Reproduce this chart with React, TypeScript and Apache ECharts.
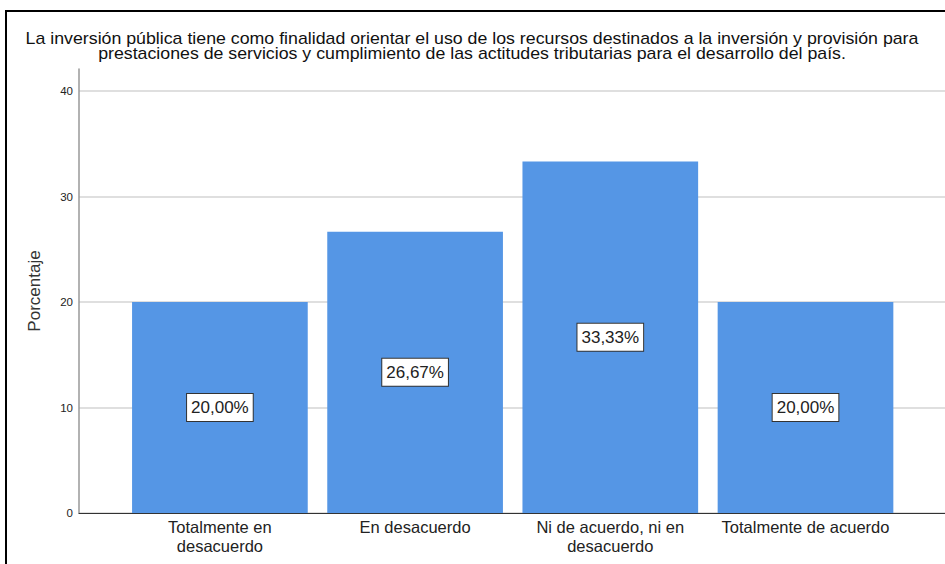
import React, { useEffect, useRef } from "react";
import * as echarts from "echarts";

const categories = [
  "Totalmente en\ndesacuerdo",
  "En desacuerdo",
  "Ni de acuerdo, ni en\ndesacuerdo",
  "Totalmente de acuerdo",
];
const percentages = [20.0, 26.67, 33.33, 20.0];
const yTicks = { min: 0, max: 42.1, interval: 10 };
const titleText =
  "La inversión pública tiene como finalidad orientar el uso de los recursos destinados a la inversión y provisión para\nprestaciones de servicios y cumplimiento de las actitudes tributarias para el desarrollo del país.";
const yName = "Porcentaje";

const FONT = "Liberation Sans, Arial, sans-serif";

export default function App() {
  const ref = useRef<HTMLDivElement>(null);
  useEffect(() => {
    if (!ref.current) return;
    const chart = echarts.init(ref.current, undefined, { renderer: "svg" });
    chart.setOption({
      animation: false,
      backgroundColor: "#ffffff",
      graphic: [
        {
          type: "rect",
          shape: { x: 6, y: 11, width: 1200, height: 1000 },
          style: { fill: "none", stroke: "#000", lineWidth: 2 },
          silent: true,
        },
        {
          type: "text",
          x: 472,
          y: 31,
          scaleX: 1.11,
          silent: true,
          style: {
            text: titleText,
            fontFamily: FONT,
            fontSize: 16,
            lineHeight: 15.5,
            fill: "#111",
            align: "center",
            verticalAlign: "top",
          },
        },
      ],
      grid: [
        { left: 79, right: 0, top: 69, bottom: 51 },
        { left: 122.3, right: 41.9, top: 69, bottom: 51 },
      ],
      xAxis: [
        {
          gridIndex: 0,
          type: "value",
          min: 0,
          max: 1,
          axisLine: { show: true, onZero: false, lineStyle: { color: "#333", width: 1 } },
          axisLabel: { show: false },
          axisTick: { show: false },
          splitLine: { show: false },
        },
        {
          gridIndex: 1,
          type: "category",
          data: categories,
          axisLine: { show: false },
          axisTick: { show: false },
          axisLabel: {
            fontFamily: FONT,
            fontSize: 16.5,
            color: "#222",
            lineHeight: 18.5,
            margin: 5,
            interval: 0,
          },
        },
      ],
      yAxis: [
        {
          gridIndex: 0,
          type: "value",
          min: yTicks.min,
          max: yTicks.max,
          interval: yTicks.interval,
          name: yName,
          nameLocation: "middle",
          nameRotate: 90,
          nameGap: 36,
          nameTextStyle: { fontFamily: FONT, fontSize: 17, color: "#333" },
          axisLine: { show: true, lineStyle: { color: "#999", width: 1.5 } },
          axisTick: { show: false },
          axisLabel: {
            fontFamily: FONT,
            fontSize: 11.5,
            color: "#222",
            margin: 6,
            showMaxLabel: false,
          },
          splitLine: {
            show: true,
            lineStyle: {
              color: ["#d4d4d4", "#d4d4d4", "#d4d4d4", "#d4d4d4", "#d4d4d4", "rgba(0,0,0,0)"],
              width: 1.5,
            },
          },
        },
        {
          gridIndex: 1,
          type: "value",
          min: yTicks.min,
          max: yTicks.max,
          show: false,
          splitLine: { show: false },
        },
      ],
      series: [
        {
          type: "bar",
          xAxisIndex: 1,
          yAxisIndex: 1,
          data: percentages,
          barCategoryGap: "10%",
          itemStyle: { color: "#5596e5" },
          label: {
            show: true,
            position: "inside",
            formatter: (p: any) => p.value.toFixed(2).replace(".", ",") + "%",
            fontFamily: FONT,
            fontSize: 17,
            color: "#222",
            backgroundColor: "#ffffff",
            borderColor: "#333",
            borderWidth: 1,
            padding: [4, 4, 3, 4],
            lineHeight: 20,
          },
        },
      ],
    });
    return () => chart.dispose();
  }, []);
  return (
    <div
      ref={ref}
      style={{ position: "fixed", left: 0, top: 0, width: 945, height: 564 }}
    />
  );
}
